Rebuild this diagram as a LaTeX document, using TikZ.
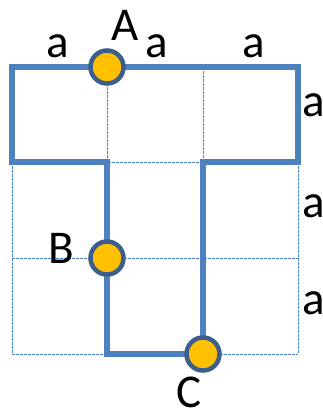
\documentclass[tikz,border=0pt]{standalone}
\usepackage{fontspec}
\setmainfont{Carlito}
\definecolor{outl}{HTML}{4F81BD}
\definecolor{ringc}{HTML}{3B5E8C}
\definecolor{dotfill}{HTML}{FFC000}
\begin{document}
\begin{tikzpicture}[x=1pt,y=-1pt,
  grid/.style={draw=outl, line width=0.9pt, dash pattern=on 2.5pt off 1.5pt},
  outline/.style={draw=outl, line width=5.5pt, line join=miter},
  dot/.style={circle, draw=ringc, fill=dotfill, line width=4.5pt, minimum size=33pt, inner sep=0pt},
  lbl/.style={font=\fontsize{47}{47}\selectfont, inner sep=0pt, anchor=base}]
\useasboundingbox (0,0) rectangle (323,412);
% dashed grid
\draw[grid] (12,162) -- (298,162);
\draw[grid] (12,258) -- (298,258);
\draw[grid] (12,354) -- (298,354);
\draw[grid] (107,67) -- (107,354);
\draw[grid] (203,67) -- (203,354);
\draw[grid] (12,162) -- (12,354);
\draw[grid] (298,162) -- (298,354);
% T outline
\coordinate (p1) at (12,67);
\coordinate (p2) at (298,67);
\coordinate (p3) at (298,162);
\coordinate (p4) at (203,162);
\coordinate (p5) at (203,354);
\coordinate (p6) at (107,354);
\coordinate (p7) at (107,162);
\coordinate (p8) at (12,162);
\draw[outline] (p1) -- (p2) -- (p3) -- (p4) -- (p5) -- (p6) -- (p7) -- (p8) -- cycle;
% points
\node[dot] (A) at (107,67) {};
\node[dot] (B) at (107,258) {};
\node[dot] (C) at (203,354) {};
% labels
\node[lbl] (lA) at (125,41) {A};
\node[lbl] (lB) at (61,263) {B};
\node[lbl] (lC) at (189,407) {C};
\node[lbl] (t1) at (58,57) {a};
\node[lbl] (t2) at (157,57) {a};
\node[lbl] (t3) at (254,57) {a};
\node[lbl] (r1) at (314,116) {a};
\node[lbl] (r2) at (314,217) {a};
\node[lbl] (r3) at (314,314) {a};
\end{tikzpicture}
\end{document}
